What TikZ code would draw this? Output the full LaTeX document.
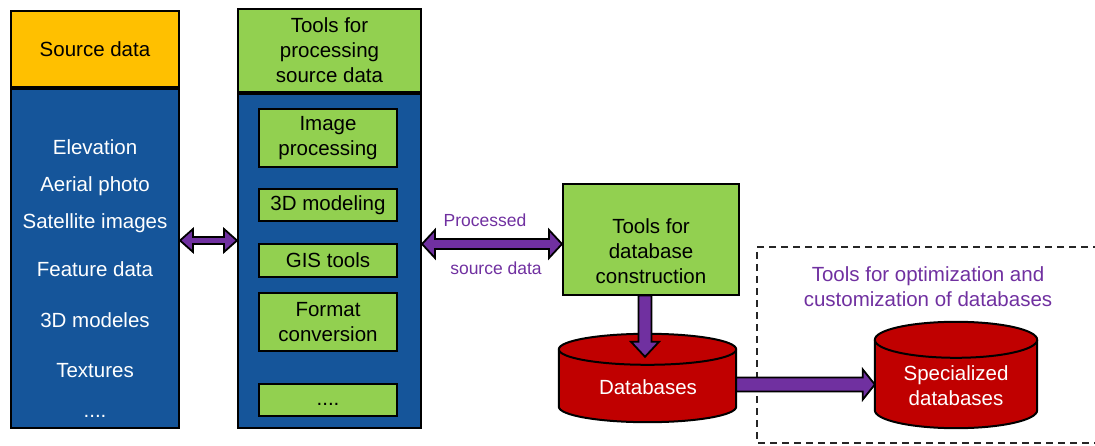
\documentclass[tikz,border=0pt]{standalone}
\usepackage{fontspec}
\setmainfont{Liberation Sans}
\usetikzlibrary{calc}
\definecolor{hdrorange}{HTML}{FFC000}
\definecolor{colblue}{HTML}{15559A}
\definecolor{toolgreen}{HTML}{92D050}
\definecolor{dbred}{HTML}{C00000}
\definecolor{flowpurple}{HTML}{7030A0}

% cylinder drawn inside the frame of an empty node: #1 node name, #2 vertical radius of the rims
\newcommand\drumshape[2]{%
  \path let \p1=(#1.north west), \p2=(#1.south east), \n1={(\x2-\x1)/2} in
    [draw=black, line width=2pt, fill=dbred]
    (\x1,\y1-#2pt) -- (\x1,\y2+#2pt)
    arc[start angle=180, end angle=360, x radius=\n1, y radius=#2pt]
    -- (\x2,\y1-#2pt)
    arc[start angle=0, end angle=180, x radius=\n1, y radius=#2pt] -- cycle;
  \path let \p1=(#1.north west), \p2=(#1.south east), \n1={(\x2-\x1)/2} in
    [draw=black, line width=2pt]
    (\x1,\y1-#2pt) arc[start angle=180, end angle=360, x radius=\n1, y radius=#2pt];
}

\begin{document}
\begin{tikzpicture}[x=1pt, y=1pt,
  font=\fontsize{20.5}{25}\selectfont,
  frame/.style={draw=black, line width=2pt, inner sep=0pt, align=center},
  colbody/.style={frame, fill=colblue},
  greenbox/.style={frame, fill=toolgreen},
  item/.style={anchor=base, inner sep=0pt, text=white},
  fat/.style={draw=black, line width=1.8pt, fill=flowpurple, line join=miter},
  flowlabel/.style={anchor=base, inner sep=0pt, text=flowpurple, font=\fontsize{17.5}{21}\selectfont},
  dbtext/.style={anchor=base, inner sep=0pt, text=white},
  empty/.style={inner sep=0pt}]

\useasboundingbox (0,0) rectangle (1095,445);

% source data column
\node[frame, fill=hdrorange, minimum width=168, minimum height=76] (srchead) at (95,396) {Source data};
\node[colbody, minimum width=168, minimum height=339] (srcbody) at (95,186.5) {};
\node[item] (s1) at (95,290) {Elevation};
\node[item] (s2) at (95,253) {Aerial photo};
\node[item] (s3) at (95,216) {Satellite images};
\node[item] (s4) at (95,168) {Feature data};
\node[item] (s5) at (95,118) {3D modeles};
\node[item] (s6) at (95,68) {Textures};
\node[item] (s7) at (95,28) {....};

% processing tools column
\node[greenbox, minimum width=183, minimum height=83] (toolshead) at (329.5,394.5) {Tools for\\processing\\source data};
\node[colbody, minimum width=183, minimum height=334] (toolsbody) at (329.5,184) {};
\node[greenbox, minimum width=138, minimum height=58] (imgp) at (328,307) {Image\\processing};
\node[greenbox, minimum width=138, minimum height=32] (model) at (328,240) {3D modeling};
\node[greenbox, minimum width=138, minimum height=33] (gis) at (328,184.5) {GIS tools};
\node[greenbox, minimum width=138, minimum height=58] (fmt) at (328,123) {Format\\conversion};
\node[greenbox, minimum width=138, minimum height=32] (more) at (328,45) {\strut....};

% database construction
\node[greenbox, minimum width=176, minimum height=110] (dbc) at (651,205.5) {};
\node[align=center, inner sep=0pt] (dbctext) at (651,194) {Tools for\\database\\construction};

% dashed region for optimization tools
\coordinate (dtl) at (757,198);
\coordinate (dbl) at (757,2);
\coordinate (dtr) at (1100,198);
\coordinate (dbr) at (1100,2);
\draw[black!85, line width=1.8pt, dash pattern=on 7pt off 5pt] (dtr) -- (dtl) -- (dbl) -- (dbr);
\node[align=center, inner sep=0pt, text=flowpurple] (opttext) at (928,158) {Tools for optimization and\\customization of databases};

% databases
\node[empty, minimum width=177, minimum height=88] (db) at (647.5,67) {};
\drumshape{db}{15.5}
\node[dbtext] (dblabel) at (648,51) {Databases};

\node[empty, minimum width=162, minimum height=106] (spec) at (956,70) {};
\drumshape{spec}{18}
\node[dbtext] (spec1) at (956,65) {Specialized};
\node[dbtext] (spec2) at (956,40) {databases};

% rows and columns of the thick arrows
\coordinate (r1) at (0,204.5);
\coordinate (r2) at (0,201);
\coordinate (r3) at (0,60.5);
\coordinate (c4) at (645,0);

% source data <-> processing tools
\draw[fat] let \p1=(srcbody.east |- r1), \p2=(toolsbody.west |- r1) in
  (\x1,\y1) -- (\x1+13pt,\y1+11.5pt) -- (\x1+13pt,\y1+3.5pt) -- (\x2-13pt,\y1+3.5pt)
  -- (\x2-13pt,\y1+11.5pt) -- (\x2,\y1) -- (\x2-13pt,\y1-11.5pt) -- (\x2-13pt,\y1-3.5pt)
  -- (\x1+13pt,\y1-3.5pt) -- (\x1+13pt,\y1-11.5pt) -- cycle;

% processing tools <-> database construction
\draw[fat] let \p1=(toolsbody.east |- r2), \p2=(dbc.west |- r2) in
  (\x1,\y1) -- (\x1+13pt,\y1+14pt) -- (\x1+13pt,\y1+5pt) -- (\x2-13pt,\y1+5pt)
  -- (\x2-13pt,\y1+14pt) -- (\x2,\y1) -- (\x2-13pt,\y1-14pt) -- (\x2-13pt,\y1-5pt)
  -- (\x1+13pt,\y1-5pt) -- (\x1+13pt,\y1-14pt) -- cycle;
\node[flowlabel] (lbl1) at (485,218) {Processed};
\node[flowlabel] (lbl2) at (496,171) {source data};

% database construction -> databases
\draw[fat] let \p1=(dbc.south -| c4), \p2=(db.north) in
  (\x1-6.5pt,\y1) -- (\x1+6.5pt,\y1) -- (\x1+6.5pt,\y2-8pt) -- (\x1+14pt,\y2-8pt)
  -- (\x1,\y2-23pt) -- (\x1-14pt,\y2-8pt) -- (\x1-6.5pt,\y2-8pt) -- cycle;

% databases -> specialized databases
\draw[fat] let \p1=(db.east |- r3), \p2=(spec.west |- r3) in
  (\x1,\y1+7pt) -- (\x2-12pt,\y1+7pt) -- (\x2-12pt,\y1+15pt) -- (\x2,\y1)
  -- (\x2-12pt,\y1-15pt) -- (\x2-12pt,\y1-7pt) -- (\x1,\y1-7pt) -- cycle;

\end{tikzpicture}
\end{document}
